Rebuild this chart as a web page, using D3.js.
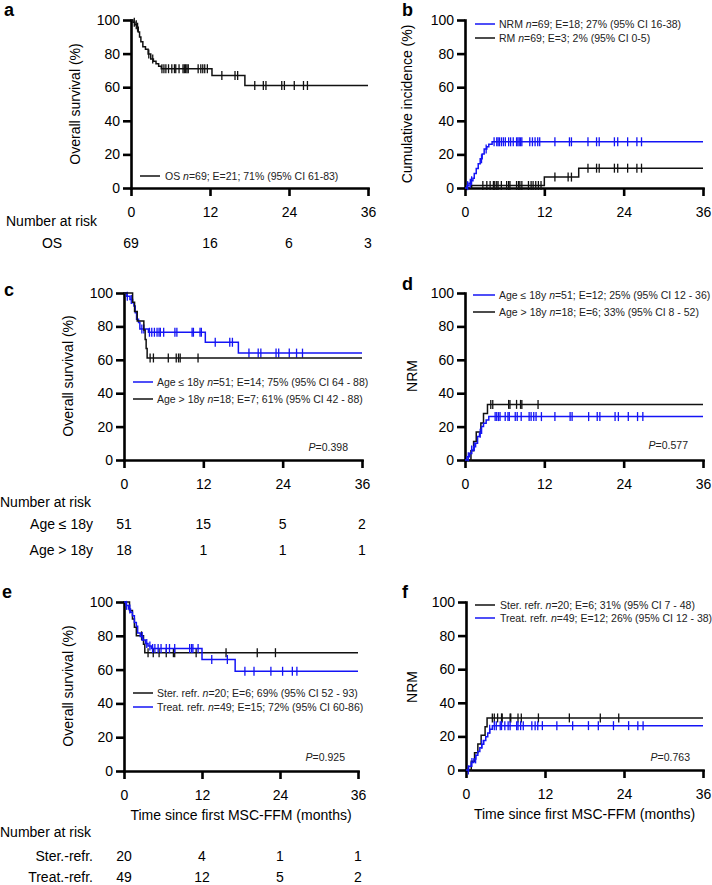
<!DOCTYPE html>
<html><head><meta charset="utf-8">
<script src="https://cdn.jsdelivr.net/npm/d3@7"></script>
<style>body{margin:0;background:#fff} svg{display:block}</style>
</head><body><svg id="c" width="712" height="885"></svg>
<script>
// ---------------- DATA ----------------
const xTicks = [0, 12, 24, 36];
const yTicks = [0, 20, 40, 60, 80, 100];

// Panel a: overall survival
const osSteps = [[0,100],[0.3,98.6],[0.6,97.1],[0.9,95.7],[1.1,92.8],[1.3,89.9],[1.5,87.0],[1.8,84.1],[2.2,82.6],[2.6,79.7],[3.0,76.8],[3.4,75.4],[3.8,73.9],[4.2,72.5],[4.6,71.0],[12.3,66.9],[17.3,61.0]];
const osCens = [0.5,0.8,1.0,2.7,3.3,4.7,5.0,5.3,5.7,6.2,6.6,6.8,7.3,7.9,8.1,8.3,8.5,8.7,10.2,10.6,10.9,11.2,11.6,13.8,15.8,16.2,18.8,20.1,20.5,22.9,23.3,24.8,26.2,26.8];
const riskOS = [69, 16, 6, 3];

// Panel b: NRM and RM cumulative incidence
const nrmSteps = [[0,0],[0.3,1.4],[0.6,2.9],[0.9,4.3],[1.2,5.8],[1.4,8.7],[1.7,11.6],[2.0,14.5],[2.3,17.4],[2.6,20.3],[2.9,23.2],[3.3,24.6],[3.6,26.1],[4.1,27.5]];
const nrmCens = [0.4,0.8,1.0,2.5,3.2,4.4,4.8,5.0,5.2,5.5,5.8,6.1,6.6,6.9,7.3,7.8,8.0,8.2,8.4,8.6,9.8,10.2,10.6,11.0,11.3,13.6,15.8,16.1,18.6,19.9,20.3,22.6,23.1,24.6,26.0,26.7];
const rmSteps = [[0,0],[1.0,1.5],[12.0,6.5],[17.2,11.8]];
const rmCens = [2.7,3.3,3.8,4.3,4.5,4.8,5.0,5.5,6.3,6.6,6.8,7.8,8.1,8.3,8.6,9.6,10.0,10.3,10.7,11.1,11.5,13.6,15.6,16.1,18.6,19.9,20.3,22.6,23.1,24.6,26.0,26.7];

// Panel c: OS by age
const osAgeLeSteps = [[0,100],[0.4,98.0],[0.9,96.1],[1.3,94.1],[1.5,92.2],[1.7,88.2],[1.9,84.3],[2.2,82.4],[2.4,78.4],[3.7,76.5],[12.3,70.5],[17.3,64.0]];
const osAgeLeCens = [0.5,1.1,2.7,3.0,3.85,4.2,4.6,5.0,5.3,5.5,6.0,7.7,8.0,10.3,10.5,11.5,11.7,13.8,16.0,16.4,18.9,20.3,20.7,23.0,23.4,25.0,26.1,27.0];
const osAgeGtSteps = [[0,100],[1.3,94.4],[1.6,88.9],[2.0,83.3],[3.0,77.8],[3.2,72.2],[3.35,66.7],[3.5,61.1]];
const osAgeGtCens = [3.95,4.45,6.7,7.9,8.25,8.5,11.2];
const riskAgeLe = [51, 15, 5, 2];
const riskAgeGt = [18, 1, 1, 1];

// Panel d: NRM by age
const nrmAgeLeSteps = [[0,0],[0.3,2.0],[0.7,4.0],[1.0,6.0],[1.3,8.0],[1.6,10.0],[1.9,14.0],[2.2,16.0],[2.5,20.0],[2.8,22.0],[3.2,24.0],[3.6,26.0]];
const nrmAgeLeCens = [0.5,1.0,1.4,2.3,4.56,4.8,5.07,5.3,6.08,6.5,6.7,7.6,7.9,8.5,9.7,10.0,10.4,10.75,11.56,13.6,15.9,16.2,18.7,20.0,20.4,22.7,23.2,24.7,26.1,26.9];
const nrmAgeGtSteps = [[0,0],[0.9,5.6],[1.3,11.1],[1.7,16.7],[2.4,22.2],[2.8,27.8],[3.4,33.3]];
const nrmAgeGtCens = [3.9,4.2,6.6,6.8,7.8,8.4,8.6,11.05];

// Panel e: OS by refractoriness
const osSterSteps = [[0,100],[0.85,95],[1.3,90],[1.6,85],[1.9,80],[3.0,75],[3.2,70]];
const osSterCens = [2.7,3.7,4.5,5.4,6.5,7.6,7.8,11.1,15.7,20.5,23.3];
const osTreatSteps = [[0,100],[0.3,98],[0.7,95.9],[1.0,93.9],[1.3,91.8],[1.6,87.8],[1.9,85.7],[2.1,81.6],[2.5,79.6],[2.9,77.5],[3.3,75.5],[3.7,74.0],[4.2,72.5],[12.0,66.0],[17.1,59.0]];
const osTreatCens = [0.4,0.9,2.8,3.5,3.98,4.4,4.75,5.25,5.7,6.5,7.0,7.8,10.1,10.4,10.6,11.4,13.5,15.9,18.6,20.0,22.6,24.4,25.9,26.6];
const riskSter = [20, 4, 1, 1];
const riskTreat = [49, 12, 5, 2];

// Panel f: NRM by refractoriness
const nrmSterSteps = [[0,0],[0.8,5.2],[1.3,10.3],[1.8,15.5],[2.3,20.7],[2.9,25.8],[3.2,31.0]];
const nrmSterCens = [4.0,4.3,4.8,5.4,5.5,6.7,6.8,7.9,8.4,11.0,15.7,20.4,23.2];
const nrmTreatSteps = [[0,0],[0.4,2.2],[0.8,4.4],[1.2,6.6],[1.5,8.8],[1.8,11.0],[2.1,13.2],[2.4,15.4],[2.7,17.6],[3.0,19.8],[3.3,22.0],[3.6,24.2],[4.0,26.4]];
const nrmTreatCens = [0.35,0.9,1.46,2.4,3.6,4.3,4.6,5.2,5.4,5.9,6.4,6.7,7.7,7.9,8.3,8.7,10.0,10.5,10.9,11.6,13.8,16.2,18.6,20.1,22.4,24.7,26.1,26.9];

// ---------------- DRAW ----------------
const FONT = '"Liberation Sans", Arial, Helvetica, sans-serif';
const BLUE = "#1414f5", BLACK = "#111111";
const svg = d3.select("#c").attr("font-family", FONT);

function stepAt(steps, t) { let v = steps[0][1]; for (const s of steps) if (s[0] <= t) v = s[1]; return v; }

function panel(cfg) {
  const x = d3.scaleLinear().domain([0, 36]).range([cfg.x0, cfg.x1]);
  const y = d3.scaleLinear().domain([0, 100]).range([cfg.y0, cfg.y1]);
  const g = svg.append("g");
  const ya = g.append("g").attr("transform", `translate(${cfg.x0},0)`)
    .call(d3.axisLeft(y).tickValues(yTicks).tickSize(8).tickSizeOuter(0).tickPadding(3));
  const xa = g.append("g").attr("transform", `translate(0,${cfg.y0})`)
    .call(d3.axisBottom(x).tickValues(xTicks).tickSize(8).tickSizeOuter(0).tickPadding(11));
  [ya, xa].forEach(a => {
    a.attr("font-family", FONT).attr("font-size", 14);
    a.select(".domain").attr("stroke", "#000").attr("stroke-width", 2.6).attr("stroke-linecap", "square");
    a.selectAll(".tick line").attr("stroke", "#000").attr("stroke-width", 2.6);
    a.selectAll(".tick text").attr("fill", "#000");
  });
  // series
  cfg.series.forEach(s => {
    const pts = s.steps.concat([[36, s.steps[s.steps.length - 1][1]]]);
    g.append("path").datum(pts)
      .attr("d", d3.line().x(d => x(d[0])).y(d => y(d[1])).curve(d3.curveStepAfter))
      .attr("fill", "none").attr("stroke", s.color).attr("stroke-width", 1.5);
    g.append("g").selectAll("line").data(s.cens).join("line")
      .attr("x1", d => x(d)).attr("x2", d => x(d))
      .attr("y1", d => y(stepAt(s.steps, d)) - 4.5).attr("y2", d => y(stepAt(s.steps, d)) + 4.5)
      .attr("stroke", s.color).attr("stroke-width", 1.3);
  });
  // legend
  cfg.legend.forEach((L, i) => {
    const ly = cfg.leg.y + i * cfg.leg.dy;
    g.append("line").attr("x1", cfg.leg.x1).attr("x2", cfg.leg.x2).attr("y1", ly).attr("y2", ly)
      .attr("stroke", L.color).attr("stroke-width", 1.5);
    const t = g.append("text").attr("x", cfg.leg.tx).attr("y", ly).attr("dy", "0.35em")
      .attr("font-size", 10.5).attr("fill", "#222");
    t.append("tspan").text(L.pre);
    t.append("tspan").attr("font-style", "italic").text("n");
    t.append("tspan").text(L.post);
  });
  // y title
  g.append("text").attr("transform", `translate(${cfg.yt.x},${cfg.yt.y}) rotate(-90)`)
    .attr("text-anchor", "middle").attr("font-size", 14).attr("fill", "#000").text(cfg.ytitle);
  // panel letter
  g.append("text").attr("x", cfg.lab.x).attr("y", cfg.lab.y).attr("font-size", 18).attr("font-weight", "bold")
    .attr("fill", "#000").text(cfg.letter);
  // p value
  if (cfg.p) {
    const t = g.append("text").attr("x", cfg.p.x).attr("y", cfg.p.y).attr("text-anchor", "end")
      .attr("font-size", 10.5).attr("fill", "#222");
    t.append("tspan").attr("font-style", "italic").text("P");
    t.append("tspan").text("=" + cfg.p.v);
  }
  if (cfg.xtitle) {
    g.append("text").attr("x", (cfg.x0 + cfg.x1) / 2).attr("y", cfg.y0 + 49).attr("text-anchor", "middle")
      .attr("font-size", 14).attr("fill", "#000").text(cfg.xtitle);
  }
  return x;
}

function riskTable(x, top, rows, labelX, anchor, nY) {
  svg.append("text").attr("x", labelX.nar).attr("y", nY).attr("dy", "0.35em").attr("font-size", 14)
    .attr("fill", "#000").text("Number at risk");
  rows.forEach(r => {
    svg.append("text").attr("x", labelX.row).attr("y", r.y).attr("dy", "0.35em").attr("font-size", 14)
      .attr("text-anchor", anchor).attr("fill", "#000").text(r.label);
    svg.append("g").selectAll("text").data(r.vals).join("text")
      .attr("x", (d, i) => x(xTicks[i])).attr("y", r.y).attr("dy", "0.35em").attr("font-size", 14)
      .attr("text-anchor", "middle").attr("fill", "#000").text(d => d);
  });
}

const xa = panel({x0:131, x1:368, y0:188, y1:20, letter:"a", lab:{x:4,y:16},
  ytitle:"Overall survival (%)", yt:{x:80,y:104},
  series:[{steps:osSteps, cens:osCens, color:BLACK}],
  legend:[{color:BLACK, pre:"OS ", post:"=69; E=21; 71% (95% CI 61-83)"}],
  leg:{x1:140, x2:160, tx:165, y:176, dy:14}});

panel({x0:465, x1:703, y0:188, y1:20, letter:"b", lab:{x:402,y:16},
  ytitle:"Cumulative incidence (%)", yt:{x:412,y:104},
  series:[{steps:rmSteps, cens:rmCens, color:BLACK},{steps:nrmSteps, cens:nrmCens, color:BLUE}],
  legend:[{color:BLUE, pre:"NRM ", post:"=69; E=18; 27% (95% CI 16-38)"},{color:BLACK, pre:"RM ", post:"=69; E=3; 2% (95% CI 0-5)"}],
  leg:{x1:475, x2:495, tx:499, y:24, dy:14}});

const xc = panel({x0:124, x1:362, y0:460, y1:293, letter:"c", lab:{x:4,y:296},
  ytitle:"Overall survival (%)", yt:{x:73,y:376},
  series:[{steps:osAgeLeSteps, cens:osAgeLeCens, color:BLUE},{steps:osAgeGtSteps, cens:osAgeGtCens, color:BLACK}],
  legend:[{color:BLUE, pre:"Age \u2264 18y ", post:"=51; E=14; 75% (95% CI 64 - 88)"},{color:BLACK, pre:"Age > 18y  ", post:"=18; E=7; 61% (95% CI 42 - 88)"}],
  leg:{x1:133, x2:153, tx:157, y:382, dy:17},
  p:{x:348, y:451, v:"0.398"}});

panel({x0:465, x1:703, y0:460, y1:293, letter:"d", lab:{x:402,y:290},
  ytitle:"NRM", yt:{x:417,y:376},
  series:[{steps:nrmAgeGtSteps, cens:nrmAgeGtCens, color:BLACK},{steps:nrmAgeLeSteps, cens:nrmAgeLeCens, color:BLUE}],
  legend:[{color:BLUE, pre:"Age \u2264 18y ", post:"=51; E=12; 25% (95% CI 12 - 36)"},{color:BLACK, pre:"Age > 18y ", post:"=18; E=6; 33% (95% CI 8 - 52)"}],
  leg:{x1:473, x2:495, tx:499, y:295, dy:17},
  p:{x:688, y:449, v:"0.577"}});

const xe = panel({x0:124, x1:358, y0:771, y1:602, letter:"e", lab:{x:2,y:598},
  ytitle:"Overall survival (%)", yt:{x:73,y:686},
  series:[{steps:osSterSteps, cens:osSterCens, color:BLACK},{steps:osTreatSteps, cens:osTreatCens, color:BLUE}],
  legend:[{color:BLACK, pre:"Ster. refr. ", post:"=20; E=6; 69% (95% CI 52 - 93)"},{color:BLUE, pre:"Treat. refr. ", post:"=49; E=15; 72% (95% CI 60-86)"}],
  leg:{x1:133, x2:153, tx:157, y:693, dy:14},
  p:{x:345, y:761, v:"0.925"}, xtitle:"Time since first MSC-FFM (months)"});

panel({x0:466, x1:703, y0:770, y1:602, letter:"f", lab:{x:402,y:598},
  ytitle:"NRM", yt:{x:417,y:687},
  series:[{steps:nrmSterSteps, cens:nrmSterCens, color:BLACK},{steps:nrmTreatSteps, cens:nrmTreatCens, color:BLUE}],
  legend:[{color:BLACK, pre:"Ster. refr. ", post:"=20; E=6; 31% (95% CI 7 - 48)"},{color:BLUE, pre:"Treat. refr. ", post:"=49; E=12; 26% (95% CI 12 - 38)"}],
  leg:{x1:475, x2:495, tx:500, y:605, dy:13},
  p:{x:690, y:761, v:"0.763"}, xtitle:"Time since first MSC-FFM (months)"});

riskTable(xa, 0, [{label:"OS", vals:riskOS, y:243}], {nar:6, row:52}, "middle", 221);
riskTable(xc, 0, [{label:"Age \u2264 18y", vals:riskAgeLe, y:524},{label:"Age > 18y", vals:riskAgeGt, y:550}], {nar:0, row:93}, "end", 502);
riskTable(xe, 0, [{label:"Ster.-refr.", vals:riskSter, y:856},{label:"Treat.-refr.", vals:riskTreat, y:877}], {nar:0, row:93}, "end", 832);
</script></body></html>
